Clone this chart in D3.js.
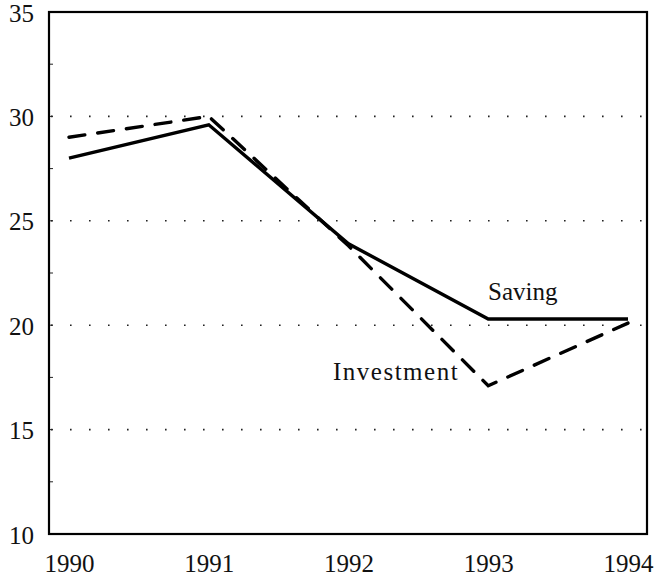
<!DOCTYPE html>
<html>
<head>
<meta charset="utf-8">
<script src="https://cdn.jsdelivr.net/npm/d3@7"></script>
<style>
  html, body { margin: 0; padding: 0; background: #fff; }
  svg { display: block; }
</style>
</head>
<body>
<svg id="chart" width="659" height="578"></svg>
<script>
// Saving and investment, percent of GDP
const years = [1990, 1991, 1992, 1993, 1994];
const saving = [28.0, 29.6, 23.9, 20.3, 20.3];
const investment = [29.0, 30.0, 23.8, 17.1, 20.1];
const yTicks = [10, 15, 20, 25, 30, 35];
const gridValues = [15, 20, 25, 30];
const minorTicks = [12.5, 17.5, 22.5, 27.5, 32.5];

const serif = "Liberation Serif";
const svg = d3.select("#chart");
const frame = { left: 49, right: 647, top: 12, bottom: 534 };

const x = d3.scaleLinear().domain([1990, 1994]).range([69, 628]);
const y = d3.scaleLinear().domain([10, 35]).range([frame.bottom, frame.top]);

// dotted horizontal grid
svg.append("g").selectAll("line").data(gridValues).join("line")
  .attr("x1", frame.left + 2).attr("x2", frame.right - 2)
  .attr("y1", d => y(d)).attr("y2", d => y(d))
  .attr("stroke", "#222").attr("stroke-width", 1.6)
  .attr("stroke-dasharray", "1.6,17.4");

// minor inward ticks on the left edge
svg.append("g").selectAll("line").data(minorTicks.concat(gridValues)).join("line")
  .attr("x1", frame.left).attr("x2", frame.left + 4)
  .attr("y1", d => y(d)).attr("y2", d => y(d))
  .attr("stroke", "#222").attr("stroke-width", 1);

// frame
svg.append("rect")
  .attr("x", frame.left).attr("y", frame.top)
  .attr("width", frame.right - frame.left).attr("height", frame.bottom - frame.top)
  .attr("fill", "none").attr("stroke", "#000").attr("stroke-width", 2.2);

// y axis labels
const yAxis = d3.axisLeft(y).tickValues(yTicks).tickSize(0).tickPadding(15)
  .tickFormat(d3.format("d"));
const gy = svg.append("g").attr("transform", `translate(${frame.left},0)`).call(yAxis);
gy.select(".domain").remove();
gy.selectAll("text")
  .style("font-family", serif).style("font-size", "25px")
  .attr("dy", "0.36em").attr("fill", "#111");

// x axis labels
const xAxis = d3.axisBottom(x).tickValues(years).tickSize(0).tickPadding(20)
  .tickFormat(d3.format("d"));
const gx = svg.append("g").attr("transform", `translate(0,${frame.bottom})`).call(xAxis);
gx.select(".domain").remove();
gx.selectAll("text")
  .style("font-family", serif).style("font-size", "25px")
  .attr("dy", "0.71em").attr("fill", "#111");

const line = d3.line().x((d, i) => x(years[i])).y(d => y(d));

svg.append("path").datum(investment)
  .attr("d", line).attr("fill", "none")
  .attr("stroke", "#000").attr("stroke-width", 3.4)
  .attr("stroke-dasharray", "16,13").attr("stroke-linecap", "round");

svg.append("path").datum(saving)
  .attr("d", line).attr("fill", "none")
  .attr("stroke", "#000").attr("stroke-width", 3.4)
  .attr("stroke-linejoin", "miter");

// series labels
svg.append("text").attr("x", 488).attr("y", 300).attr("fill", "#111")
  .style("font-family", serif).style("font-size", "25px").text("Saving");
svg.append("text").attr("x", 333).attr("y", 380).attr("fill", "#111")
  .style("font-family", serif).style("font-size", "25px")
  .style("letter-spacing", "1.5px").text("Investment");
</script>
</body>
</html>
